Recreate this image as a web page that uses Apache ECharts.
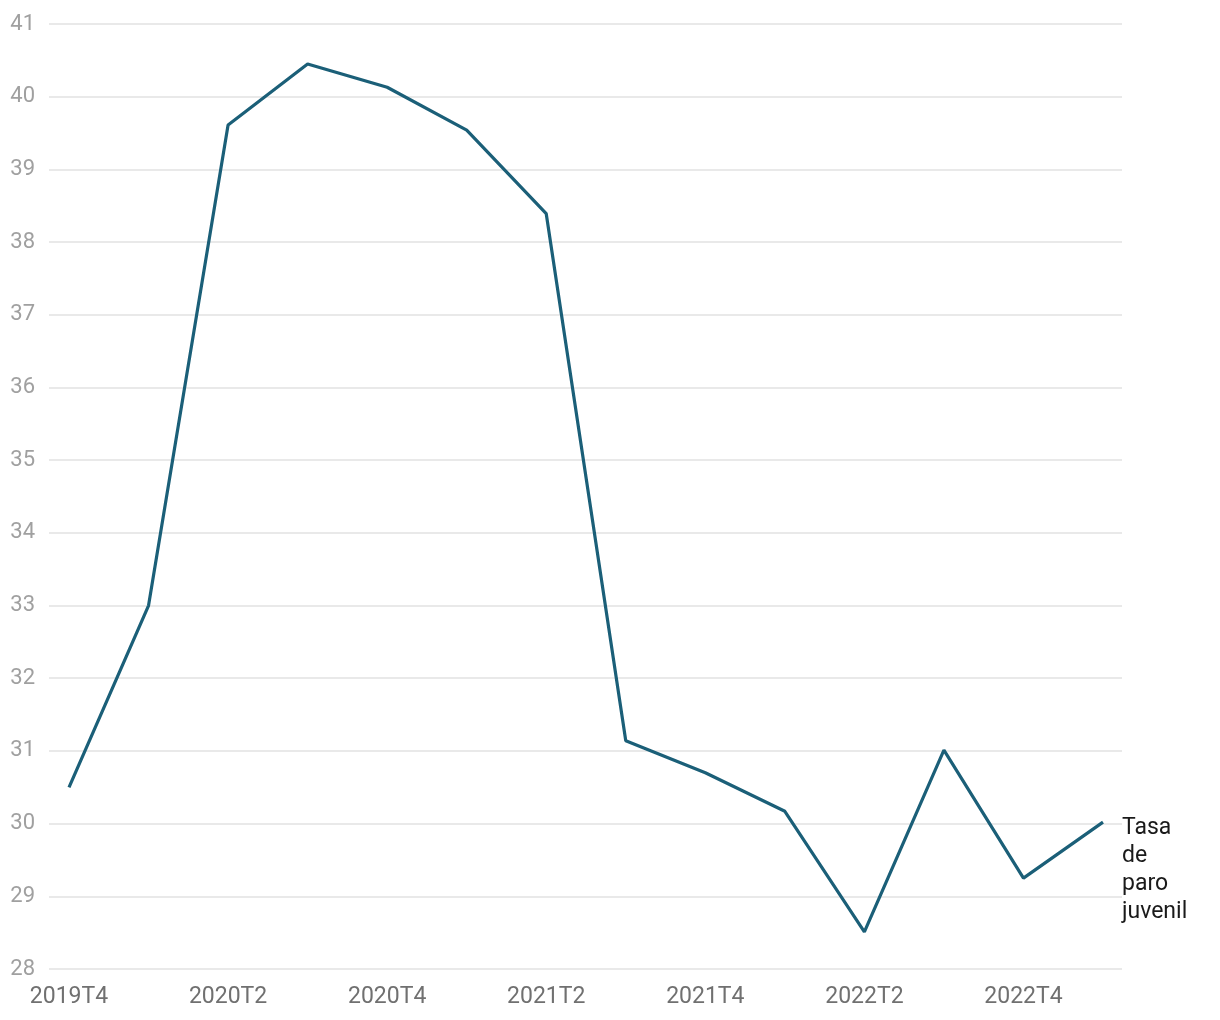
<!DOCTYPE html>
<html><head><meta charset="utf-8">
<script src="https://cdn.jsdelivr.net/npm/echarts@6/dist/echarts.min.js"></script>
<style>html,body{margin:0;padding:0;background:#fff}#c{width:1220px;height:1020px}</style>
</head><body><div id="c"></div>
<script>
const categories = ['2019T4','2020T1','2020T2','2020T3','2020T4','2021T1','2021T2','2021T3','2021T4','2022T1','2022T2','2022T3','2022T4','2023T1'];
const values = [30.50, 33.00, 39.61, 40.45, 40.13, 39.54, 38.39, 31.14, 30.70, 30.17, 28.51, 31.01, 29.25, 30.02];
const seriesName = 'Tasa de paro juvenil';
const yMin = 28, yMax = 41, yStep = 1;

const chart = echarts.init(document.getElementById('c'));
chart.setOption({
  animation: false,
  textStyle: { fontFamily: 'Roboto' },
  grid: [
    { left: 49, right: 98, top: 24, bottom: 51 },
    { left: 69, right: 117, top: 24, bottom: 51 }
  ],
  xAxis: [
    { gridIndex: 0, type: 'value', show: false, min: 0, max: 1 },
    { gridIndex: 1, type: 'category', data: categories, boundaryGap: false,
      axisLine: { show: false }, axisTick: { show: false },
      axisLabel: { interval: 1, color: '#707070', fontSize: 23, margin: 17, fontFamily: 'Roboto' } }
  ],
  yAxis: [
    { gridIndex: 0, type: 'value', min: yMin, max: yMax, interval: yStep,
      axisLine: { show: false }, axisTick: { show: false },
      axisLabel: { color: '#a0a0a0', fontSize: 22, margin: 14, align: 'right', fontFamily: 'Roboto', padding: [3, 0, 0, 0] },
      splitLine: { lineStyle: { color: '#e2e2e2', width: 1.5 } } },
    { gridIndex: 1, type: 'value', min: yMin, max: yMax, interval: yStep, show: false,
      splitLine: { show: false } }
  ],
  series: [{
    name: seriesName, type: 'line', xAxisIndex: 1, yAxisIndex: 1,
    data: values, symbol: 'none',
    lineStyle: { color: '#1b5f78', width: 3.2 },
    itemStyle: { color: '#1b5f78' },
    endLabel: {
      show: true, formatter: 'Tasa\nde\nparo\njuvenil',
      color: '#1a1a1a', fontSize: 23, lineHeight: 28, fontFamily: 'Roboto',
      align: 'left', verticalAlign: 'top', distance: 19, offset: [0, -8]
    }
  }]
});
</script></body></html>
